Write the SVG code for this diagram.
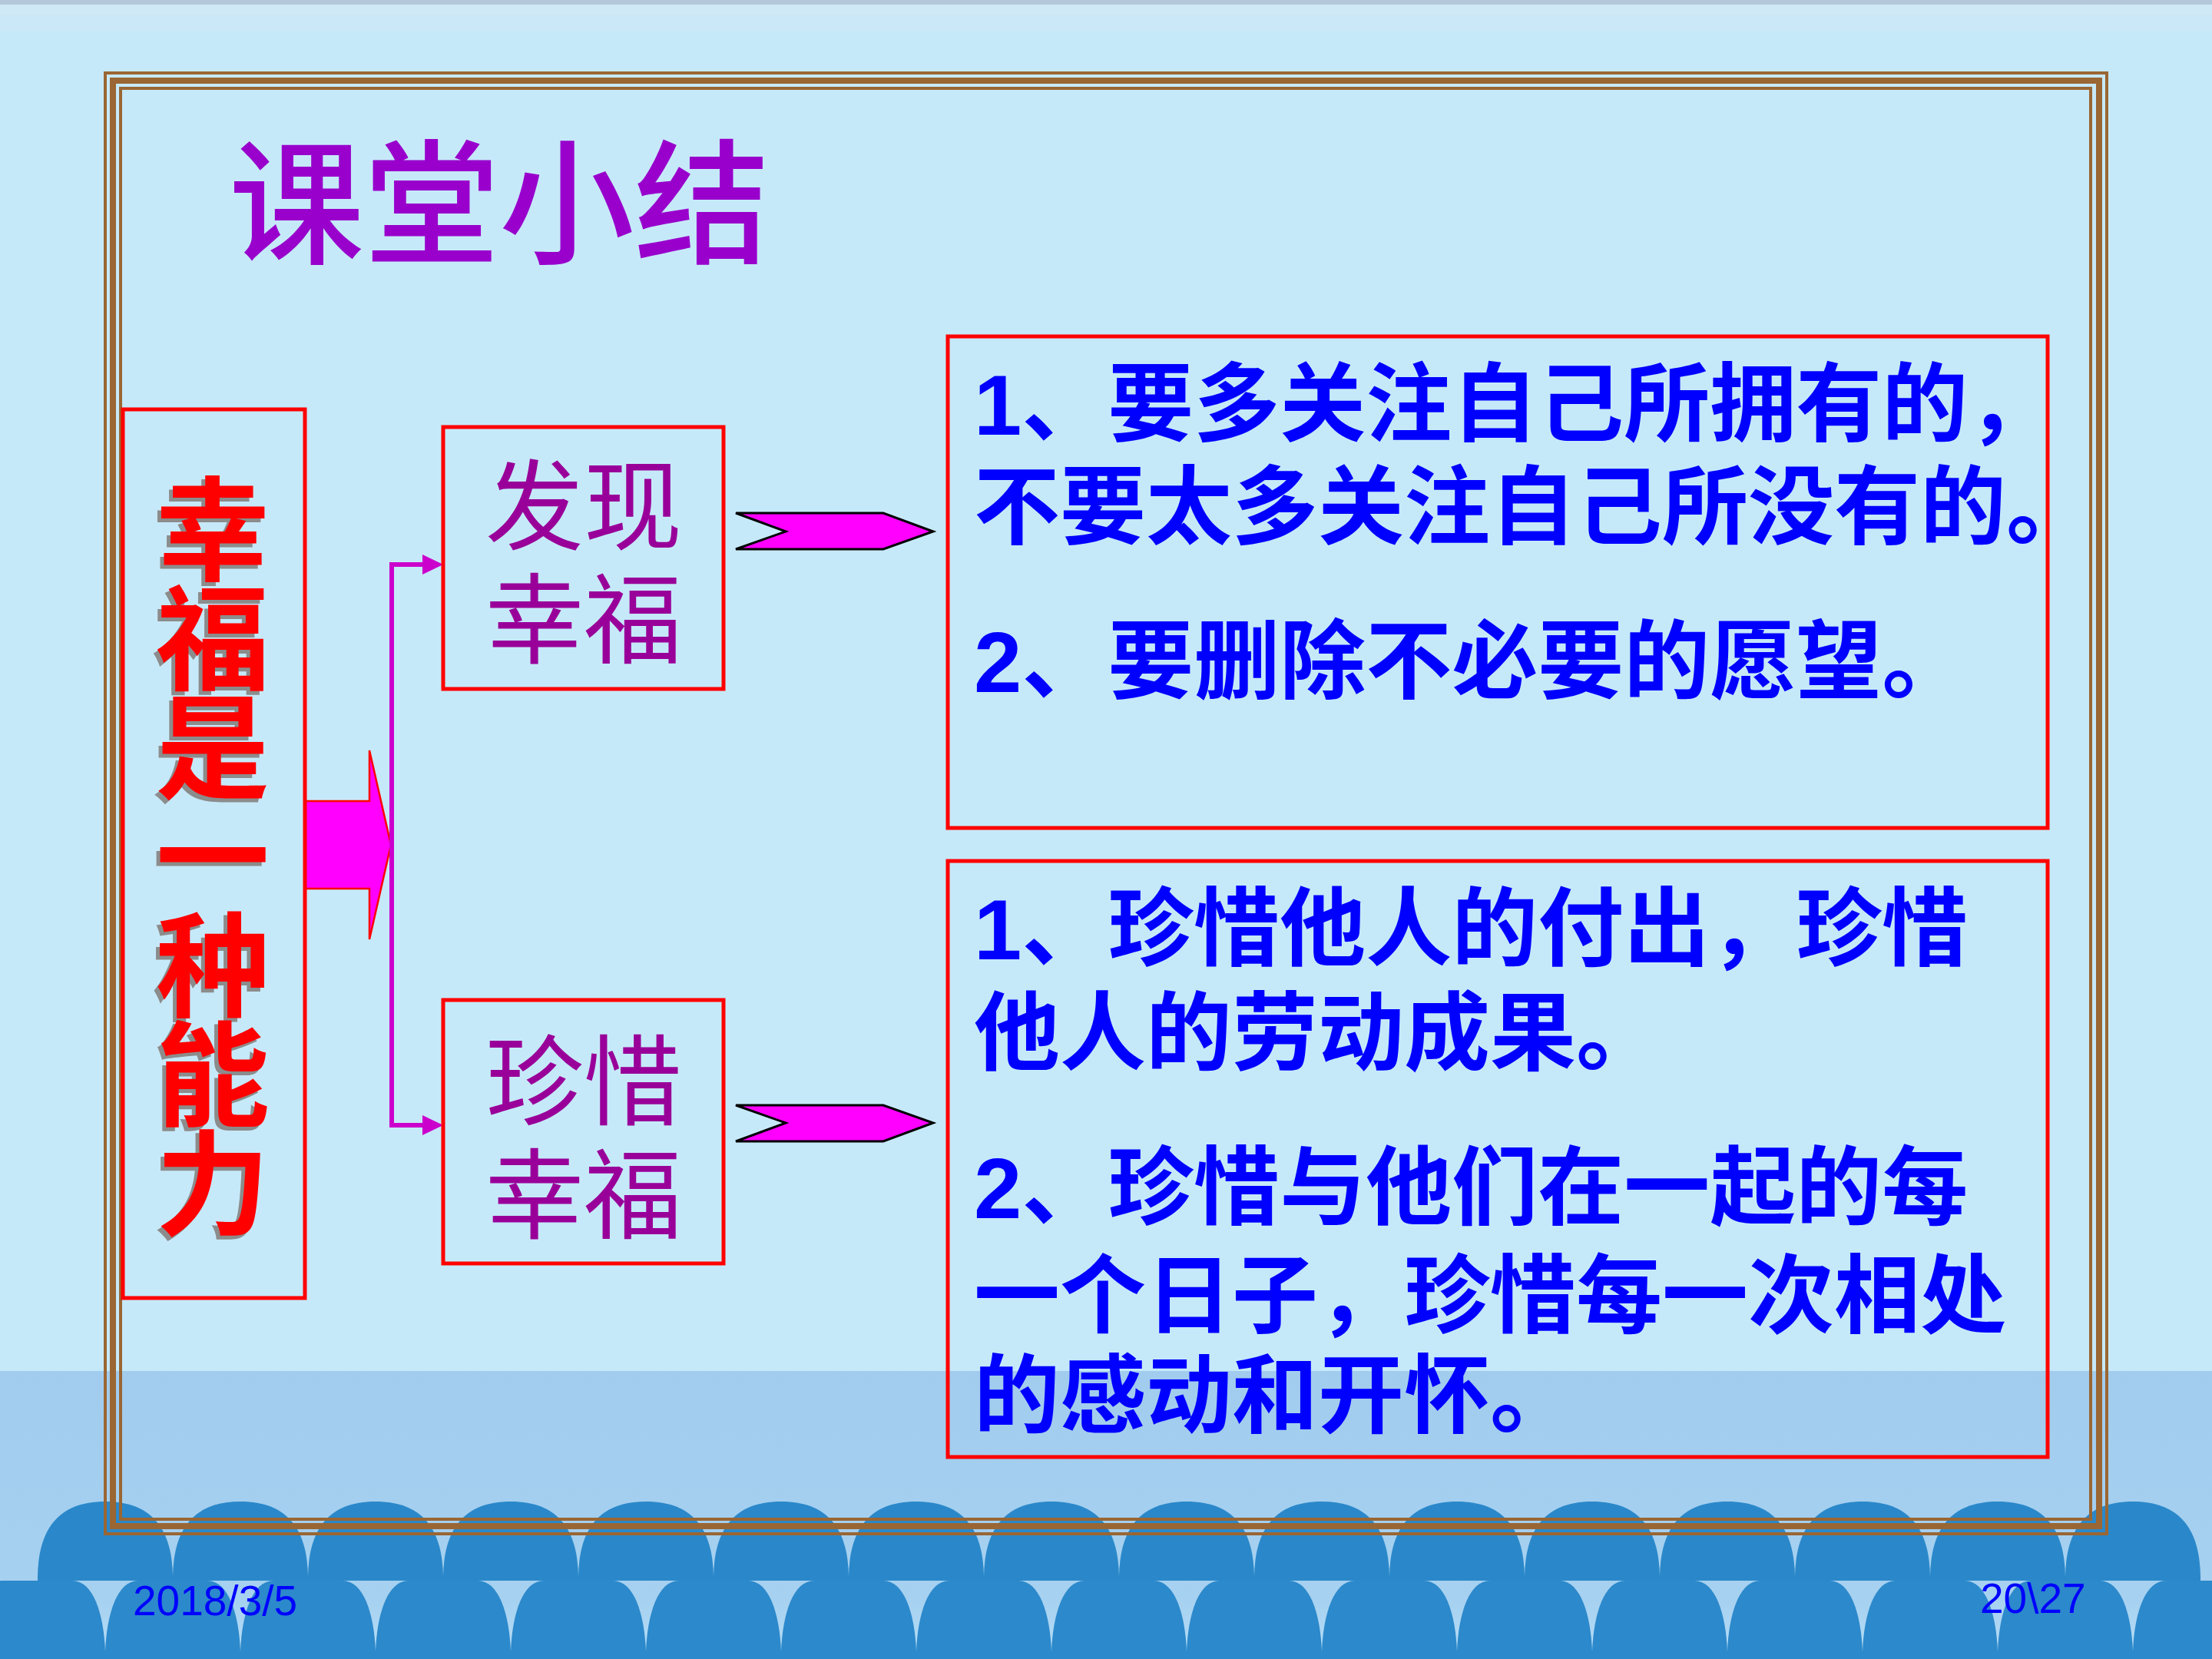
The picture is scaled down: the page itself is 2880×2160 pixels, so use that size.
<svg xmlns="http://www.w3.org/2000/svg" width="2880" height="2160" viewBox="0 0 2880 2160">
  <defs>
    <linearGradient id="band" x1="0" y1="0" x2="0" y2="1">
      <stop offset="0" stop-color="#A2CCEE"/>
      <stop offset="0.8" stop-color="#A6D1F0"/>
      <stop offset="1" stop-color="#B6DEF8"/>
    </linearGradient>
    <path id="upArch" d="M-88,2058 L-88,2052 C-87,2005 -72,1955 0,1955 C72,1955 87,2005 88,2052 L88,2058 Z"/>
    <path id="loArch" d="M-88,2160 L-88,2150 C-86,2100 -72,2058 -45,2058 L45,2058 C72,2058 86,2100 88,2150 L88,2160 Z"/>
  </defs>
  <style>
    .frame { fill: none; stroke: #9A6633; }
    .box { fill: none; stroke: #FF0000; stroke-width: 5; }
    .arch1 { fill: #2A88CA; }
    .arch2 { fill: #2C89CB; }
    .title { font-family: "Noto Sans CJK SC", sans-serif; font-size: 176px; fill: #9900CC; font-weight: 500; }
    .vtext { font-family: "Noto Sans CJK SC", sans-serif; font-size: 148px; font-weight: 700; text-anchor: middle; }
    .sub { font-family: "Noto Sans CJK SC", sans-serif; font-size: 128px; fill: #990099; text-anchor: middle; }
    .body { font-family: "Liberation Sans", "Noto Sans CJK SC", sans-serif; font-size: 112px; font-weight: 700; fill: #0000FF; }
    .foot { font-family: "Liberation Sans", sans-serif; font-size: 55px; fill: #0000FF; }
    .chev { fill: #FF00FF; stroke: #000000; stroke-width: 3; stroke-linejoin: miter; }
    .conn { fill: none; stroke: #CC00CC; stroke-width: 6; }
  </style>

  <!-- background -->
  <rect x="0" y="0" width="2880" height="2160" fill="#C6E9F9"/>
  <rect x="0" y="0" width="2880" height="6" fill="#B5C8DA"/>
  <rect x="0" y="6" width="2880" height="14" fill="#D0E9F6"/>
  <rect x="0" y="20" width="2880" height="20" fill="#CAE8F7"/>
  <rect x="0" y="1785" width="2880" height="375" fill="url(#band)"/>

  <!-- arches -->
  <g id="arches">
    <g class="arch2">
      <use href="#loArch" x="49"/><use href="#loArch" x="225"/><use href="#loArch" x="401"/><use href="#loArch" x="577"/>
      <use href="#loArch" x="753"/><use href="#loArch" x="929"/><use href="#loArch" x="1105"/><use href="#loArch" x="1281"/>
      <use href="#loArch" x="1457"/><use href="#loArch" x="1633"/><use href="#loArch" x="1809"/><use href="#loArch" x="1985"/>
      <use href="#loArch" x="2161"/><use href="#loArch" x="2337"/><use href="#loArch" x="2513"/><use href="#loArch" x="2689"/>
      <use href="#loArch" x="2865"/>
    </g>
    <g class="arch1">
      <use href="#upArch" x="137"/><use href="#upArch" x="313"/><use href="#upArch" x="489"/><use href="#upArch" x="665"/>
      <use href="#upArch" x="841"/><use href="#upArch" x="1017"/><use href="#upArch" x="1193"/><use href="#upArch" x="1369"/>
      <use href="#upArch" x="1545"/><use href="#upArch" x="1721"/><use href="#upArch" x="1897"/><use href="#upArch" x="2073"/>
      <use href="#upArch" x="2249"/><use href="#upArch" x="2425"/><use href="#upArch" x="2601"/><use href="#upArch" x="2777"/>
    </g>
  </g>

  <!-- frame -->
  <g id="frame">
    <rect class="frame" x="137" y="95" width="2606" height="1902" stroke-width="4"/>
    <rect class="frame" x="147" y="105" width="2586" height="1882" stroke-width="8"/>
    <rect class="frame" x="157" y="115" width="2565" height="1863" stroke-width="4"/>
  </g>

  <!-- title -->
  <g id="title">
    <text class="title" x="298" y="330">课堂小结</text>
  </g>

  <!-- connectors -->
  <g id="connectors">
    <path d="M397,1043 L481,1043 L481,977 L509,1100 L481,1223 L481,1157 L397,1157 Z" fill="#FF00FF" stroke="#FF0000" stroke-width="2.5"/>
    <path class="conn" d="M550,735 L510,735 L510,1465 L550,1465"/>
    <path d="M550,722 L577,735 L550,748 Z" fill="#CC00CC"/>
    <path d="M550,1452 L577,1465 L550,1478 Z" fill="#CC00CC"/>
    <path class="chev" d="M958,668 L1150,668 L1215,692 L1150,715 L958,715 L1023,692 Z"/>
    <path class="chev" d="M958,1439 L1150,1439 L1215,1462 L1150,1486 L958,1486 L1023,1462 Z"/>
  </g>

  <!-- main node -->
  <g id="node-main">
    <rect class="box" x="160" y="533" width="237" height="1157"/>
    <text class="vtext" fill="#8C8C8C">
      <tspan x="272" y="749">幸</tspan><tspan x="272" y="891">福</tspan><tspan x="272" y="1033">是</tspan><tspan x="272" y="1175">一</tspan><tspan x="272" y="1317">种</tspan><tspan x="272" y="1459">能</tspan><tspan x="272" y="1601">力</tspan>
    </text>
    <text class="vtext" fill="#FF0000">
      <tspan x="277" y="744">幸</tspan><tspan x="277" y="886">福</tspan><tspan x="277" y="1028">是</tspan><tspan x="277" y="1170">一</tspan><tspan x="277" y="1312">种</tspan><tspan x="277" y="1454">能</tspan><tspan x="277" y="1596">力</tspan>
    </text>
  </g>

  <!-- discover node -->
  <g id="node-discover">
    <rect class="box" x="577" y="556" width="365" height="341"/>
    <text class="sub"><tspan x="760" y="706">发现</tspan><tspan x="760" y="854">幸福</tspan></text>
  </g>

  <!-- cherish node -->
  <g id="node-cherish">
    <rect class="box" x="577" y="1302" width="365" height="343"/>
    <text class="sub"><tspan x="760" y="1455">珍惜</tspan><tspan x="760" y="1603">幸福</tspan></text>
  </g>

  <!-- detail 1 -->
  <g id="node-detail1">
    <rect class="box" x="1234" y="438" width="1432" height="640"/>
    <text class="body">
      <tspan x="1268" y="566">1、要多关注自己所拥有的，</tspan>
      <tspan x="1268" y="700">不要太多关注自己所没有的。</tspan>
      <tspan x="1268" y="901">2、要删除不必要的愿望。</tspan>
    </text>
  </g>

  <!-- detail 2 -->
  <g id="node-detail2">
    <rect class="box" x="1234" y="1121" width="1432" height="776"/>
    <text class="body">
      <tspan x="1268" y="1249">1、珍惜他人的付出，珍惜</tspan>
      <tspan x="1268" y="1385">他人的劳动成果。</tspan>
      <tspan x="1268" y="1586">2、珍惜与他们在一起的每</tspan>
      <tspan x="1268" y="1727">一个日子，珍惜每一次相处</tspan>
      <tspan x="1268" y="1857">的感动和开怀。</tspan>
    </text>
  </g>

  <!-- footer -->
  <g id="footer">
    <text class="foot" x="173" y="2103">2018/3/5</text>
    <text class="foot" x="2578" y="2100">20\27</text>
  </g>
</svg>
